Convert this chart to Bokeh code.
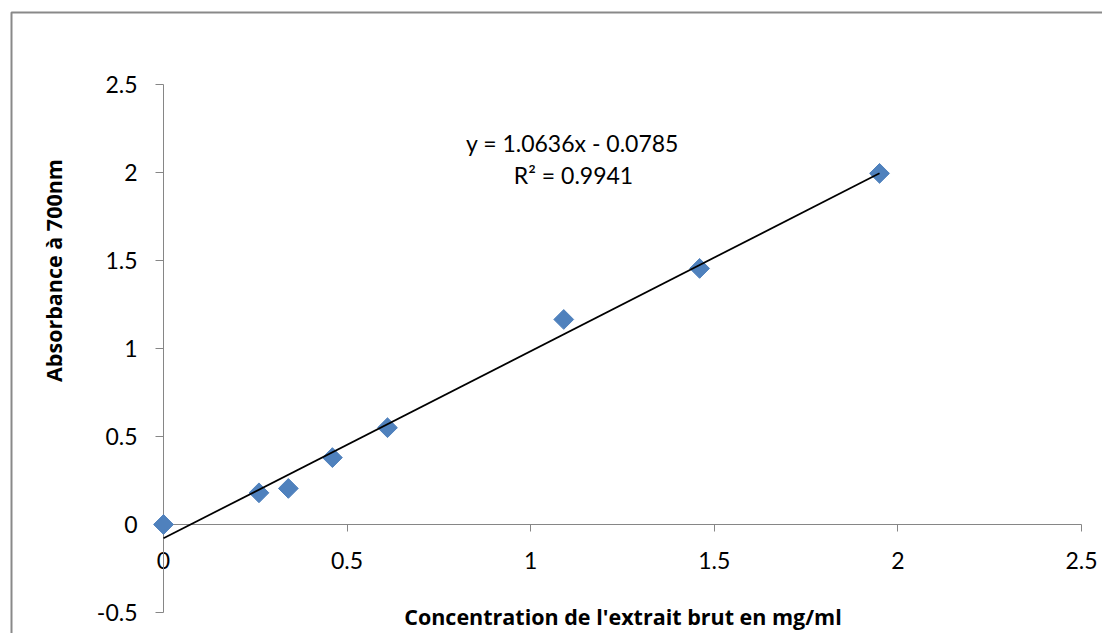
import numpy as np
from bokeh.plotting import figure
from bokeh.models import (Range1d, LinearAxis, FixedTicker, Label, BoxAnnotation,
                          NumeralTickFormatter)
from bokeh.embed import file_html
from bokeh.resources import INLINE

# ---- data ----
concentration = [0.0, 0.26, 0.34, 0.46, 0.61, 1.09, 1.46, 1.95]
absorbance = [0.0, 0.18, 0.205, 0.38, 0.55, 1.165, 1.455, 1.995]
fit_slope = 1.0636
fit_intercept = -0.0785
fit_r2 = 0.9941
x_ticks = [0, 0.5, 1, 1.5, 2, 2.5]
x_tick_labels = ["0", "0.5", "1", "1.5", "2", "2.5"]
y_ticks = [-0.5, 0, 0.5, 1, 1.5, 2, 2.5]
y_tick_labels = ["-0.5", "0", "0.5", "1", "1.5", "2", "2.5"]
x_title = "Concentration de l'extrait brut en mg/ml"
y_title = "Absorbance à 700nm"
eq_text = "y = 1.0636x - 0.0785"
r2_text = "R² = 0.9941"

# ---- layout (pixel mapping of the page) ----
W, H = 1102, 633
X0, XS = 163.0, 367.2   # pixel of x = 0, pixels per unit
Y0, YS = 524.0, 176.0   # pixel of y = 0, pixels per unit


def dx(px):
    return (px - X0) / XS


def dy(py):
    return (Y0 - py) / YS


FONT = "Lato"
TITLE_FONT = "Open Sans"
AXIS_GREY = "#868686"
BLUE = "#4F81BD"

p = figure(width=W, height=H, output_backend="svg", toolbar_location=None,
           x_range=Range1d(dx(0), dx(W)), y_range=Range1d(dy(H), dy(0)),
           x_axis_location=None, y_axis_location=None,
           min_border_left=0, min_border_right=0, min_border_top=0, min_border_bottom=0)
p.outline_line_color = None
p.xgrid.grid_line_color = None
p.ygrid.grid_line_color = None
p.background_fill_color = "white"
p.border_fill_color = "white"

# chart-area border (Excel style, left and top visible)
p.add_layout(BoxAnnotation(left=dx(11), top=dy(12), right=dx(W + 30), bottom=dy(H + 30),
                           fill_alpha=0, line_color="#898989", line_alpha=1.0,
                           line_width=2))


def style_axis(ax):
    ax.axis_line_color = AXIS_GREY
    ax.axis_line_width = 1
    ax.major_tick_line_color = AXIS_GREY
    ax.major_tick_in = 0
    ax.minor_tick_line_color = None
    ax.major_label_text_font = FONT
    ax.major_label_text_font_size = "23px"
    ax.major_label_text_color = "black"
    ax.formatter = NumeralTickFormatter(format="0.[0]")


xaxis = LinearAxis(fixed_location=0, bounds=(x_ticks[0], x_ticks[-1]),
                   ticker=FixedTicker(ticks=x_ticks),
                   major_label_overrides=dict(zip(x_ticks, x_tick_labels)))
style_axis(xaxis)
xaxis.major_tick_out = 7
xaxis.major_label_standoff = 20
p.add_layout(xaxis, "below")

yaxis = LinearAxis(fixed_location=0, bounds=(y_ticks[0], y_ticks[-1]),
                   ticker=FixedTicker(ticks=y_ticks),
                   major_label_overrides=dict(zip(y_ticks, y_tick_labels)))
style_axis(yaxis)
yaxis.major_tick_out = 8
yaxis.major_label_standoff = 18
p.add_layout(yaxis, "left")

# data points (diamonds)
p.scatter(concentration, absorbance, marker="square", angle=np.pi / 4, size=14,
          fill_color=BLUE, line_color=BLUE, level="overlay")

# linear trendline over the data range
tx = np.array([min(concentration), max(concentration)])
ty = fit_slope * tx + fit_intercept
p.line(tx, ty, line_color="black", line_width=1.75, level="overlay")

# equation labels
p.add_layout(Label(x=dx(572), y=dy(142), text=eq_text, text_align="center",
                   text_baseline="middle", text_font=FONT, text_font_size="23px",
                   text_color="black"))
p.add_layout(Label(x=dx(573), y=dy(174), text=r2_text, text_align="center",
                   text_baseline="middle", text_font=FONT, text_font_size="23px",
                   text_color="black"))

# axis titles
p.add_layout(Label(x=dx(622.5), y=dy(616), text=x_title, text_align="center",
                   text_baseline="middle", text_font=TITLE_FONT, text_font_style="bold",
                   text_font_size="21.5px", text_color="black"))
p.add_layout(Label(x=dx(53), y=dy(270), text=y_title, text_align="center",
                   text_baseline="middle", text_font=TITLE_FONT, text_font_style="bold",
                   text_font_size="21.5px", text_color="black", angle=np.pi / 2))

open("out.html", "w").write(file_html(p, INLINE))
